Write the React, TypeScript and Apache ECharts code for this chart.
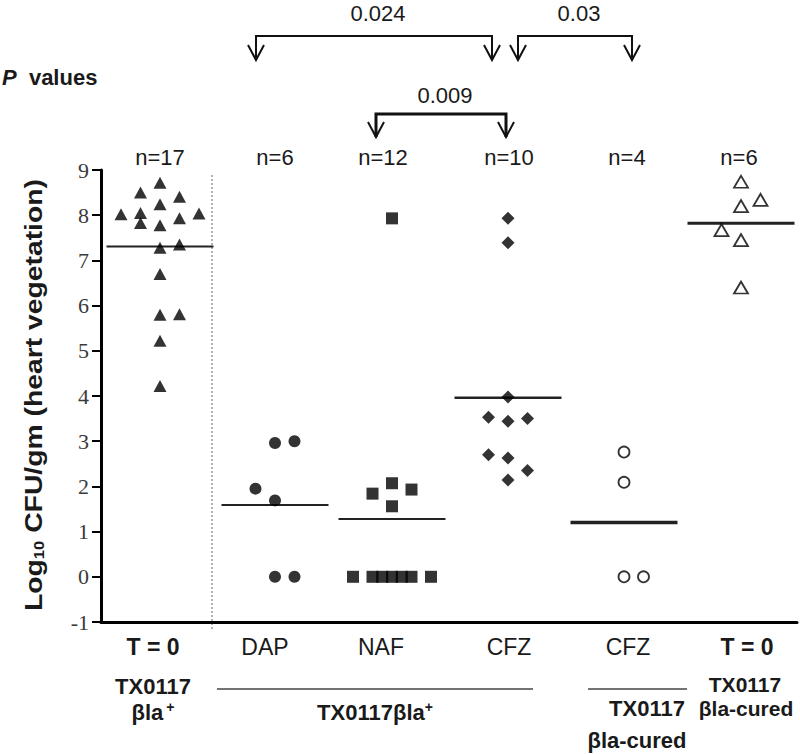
import React, { useEffect, useRef } from "react";
import * as echarts from "echarts";

// ---------- data ----------
const categoryLabels = ["T = 0", "DAP", "NAF", "CFZ", "CFZ", "T = 0"];
const boldCategory = [true, false, false, false, false, true];
const categoryLabelX = [0.52, 1.64, 2.8, 4.08, 5.27, 6.46];
const groupCenters = [0.59, 1.74, 2.91, 4.07, 5.23, 6.4];
const nLabelX = [0.59, 1.74, 2.82, 4.08, 5.26, 6.38];
const sampleSizes = [17, 6, 12, 10, 4, 6];
const medians = [7.31, 1.59, 1.28, 3.96, 1.2, 7.82];

const t0Values = [8.02, 8.5, 8.05, 7.83, 8.72, 8.24, 7.78, 7.28, 6.7, 5.8, 5.22, 4.22, 8.41, 7.93, 7.35, 5.81, 8.04];
const t0Slots = [-2, -1, -1, -1, 0, 0, 0, 0, 0, 0, 0, 0, 1, 1, 1, 1, 2];
const dapValues = [3.0, 2.96, 1.95, 1.69, 0, 0];
const dapSlots = [1, 0, -1, 0, 0, 1];
const nafValues = [7.93, 2.07, 1.84, 1.93, 1.56, 0, 0, 0, 0, 0, 0, 0];
const nafSlots = [0, 0, -1, 1, 0, -2, -1, -0.5, 0, 0.5, 1, 2];
const cfzValues = [7.93, 7.39, 3.98, 3.53, 3.44, 3.5, 2.7, 2.63, 2.35, 2.14];
const cfzSlots = [0, 0, 0, -1, 0, 1, -1, 0, 1, 0];
const curedCfzValues = [2.76, 2.09, 0, 0];
const curedCfzSlots = [0, 0, 0, 1];
const curedT0Values = [8.74, 8.34, 8.2, 7.67, 7.45, 6.4];
const curedT0Slots = [0, 1, 0, -1, 0, 0];

const yTicks = [-1, 0, 1, 2, 3, 4, 5, 6, 7, 8, 9];

// P-value comparisons
const pLabels = ["0.024", "0.03", "0.009"];
const pFrom = [1.55, 4.17, 2.75];
const pTo = [3.91, 5.31, 4.05];
const pLevel = [0, 0, 1];

// ---------- layout ----------
const SLOT = 0.195;
const X_MAX = 6.96;
const MEDIAN_HALF = 0.535;

const groupStyles = [
  { symbol: "triangle", size: [13, 12], open: false },
  { symbol: "circle", size: 12, open: false },
  { symbol: "rect", size: 12, open: false },
  { symbol: "diamond", size: 13, open: false },
  { symbol: "circle", size: 11, open: true },
  { symbol: "triangle", size: [14, 12], open: true },
];
const medianWidths = [2, 2, 2, 2.5, 3.5, 3];

const groupValues = [t0Values, dapValues, nafValues, cfzValues, curedCfzValues, curedT0Values];
const groupSlots = [t0Slots, dapSlots, nafSlots, cfzSlots, curedCfzSlots, curedT0Slots];

const TEXT = "#1a1a1a";
const FONT = "Liberation Sans, Arial, sans-serif";
const FS = 22;

export default function App() {
  const ref = useRef<HTMLDivElement>(null);

  useEffect(() => {
    document.body.style.margin = "0";
    if (!ref.current) return;
    const chart = echarts.init(ref.current, undefined, { renderer: "svg" });

    const series: any[] = [];
    groupValues.forEach((vals, g) => {
      const st = groupStyles[g];
      series.push({
        type: "scatter",
        name: "g" + g,
        symbol: st.symbol,
        symbolSize: st.size,
        z: 3,
        itemStyle: st.open
          ? { color: "#fff", borderColor: "#000", borderWidth: 1.8 }
          : { color: "#000" },
        data: vals.map((v, i) => [groupCenters[g] + groupSlots[g][i] * SLOT, v]),
      });
      series.push({
        type: "line",
        name: "m" + g,
        symbol: "none",
        z: 2,
        lineStyle: { color: "#222", width: medianWidths[g] },
        data: [
          [groupCenters[g] - MEDIAN_HALF, medians[g]],
          [groupCenters[g] + MEDIAN_HALF, medians[g]],
        ],
      });
    });

    const option: any = {
      animation: false,
      backgroundColor: "#fff",
      grid: { left: 101, right: 3, top: 170, bottom: 132, containLabel: false },
      xAxis: {
        type: "value",
        min: 0,
        max: X_MAX,
        splitLine: { show: false },
        axisLine: { onZero: false, lineStyle: { color: "#000", width: 3 } },
        axisTick: { show: false },
        axisLabel: {
          customValues: categoryLabelX,
          margin: 13,
          formatter: (val: number) => {
            const i = categoryLabelX.findIndex((c) => Math.abs(c - val) < 1e-6);
            if (i < 0) return "";
            return boldCategory[i] ? `{b|${categoryLabels[i]}}` : `{n|${categoryLabels[i]}}`;
          },
          rich: {
            b: { fontFamily: FONT, fontSize: 23, fontWeight: "bold", color: TEXT },
            n: { fontFamily: FONT, fontSize: 23, color: TEXT },
          },
        },
      },
      yAxis: {
        type: "value",
        min: -1,
        max: 9,
        interval: 1,
        splitLine: { show: false },
        axisLine: { show: true, onZero: false, lineStyle: { color: "#000", width: 3 } },
        axisTick: { show: true, inside: false, length: 9, lineStyle: { color: "#000", width: 2 } },
        axisLabel: {
          margin: 12,
          fontFamily: "Liberation Serif, Times New Roman, serif",
          fontSize: 22,
          color: "#3a3a3a",
          formatter: (v: number) => (yTicks.includes(v) ? String(v) : ""),
        },
      },
      series,
    };
    chart.setOption(option);

    const px = (x: number, y: number) =>
      chart.convertToPixel({ xAxisIndex: 0, yAxisIndex: 0 }, [x, y]) as number[];

    const graphics: any[] = [];
    const txt = (text: string, x: number, y: number, extra: any = {}) => ({
      type: "text",
      x,
      y,
      silent: true,
      style: {
        text,
        fontFamily: FONT,
        fontSize: FS,
        fill: TEXT,
        align: "center",
        verticalAlign: "middle",
        ...extra,
      },
    });

    // y-axis title
    graphics.push({
      type: "text",
      x: 32,
      y: 395,
      rotation: Math.PI / 2,
      scaleX: 1.18,
      silent: true,
      style: {
        text: "{a|Log}{s|10}{a| CFU/gm (heart vegetation)}",
        align: "center",
        verticalAlign: "middle",
        rich: {
          a: { fontFamily: FONT, fontSize: 24, fontWeight: "bold", fill: TEXT, verticalAlign: "bottom", lineHeight: 28 },
          s: { fontFamily: FONT, fontSize: 14, fontWeight: "bold", fill: TEXT, verticalAlign: "bottom", lineHeight: 28, padding: [10, 0, 0, 0] },
        },
      },
    });

    // "P values"
    graphics.push({
      type: "text",
      x: 2,
      y: 77,
      silent: true,
      style: {
        text: "{p|P}{v|  values}",
        align: "left",
        verticalAlign: "middle",
        rich: {
          p: { fontFamily: FONT, fontSize: 22, fontWeight: "bold", fontStyle: "italic", fill: TEXT },
          v: { fontFamily: FONT, fontSize: 22, fontWeight: "bold", fill: TEXT },
        },
      },
    });

    // n labels
    sampleSizes.forEach((n, g) => {
      const [x] = px(nLabelX[g], 0);
      graphics.push(txt(`n=${n}`, x, 157));
    });

    // p-value brackets
    const levels = [
      { text: 13, bar: 36, tip: 60, width: 2 },
      { text: 95, bar: 114, tip: 137, width: 3 },
    ];
    pLabels.forEach((lab, k) => {
      const L = levels[pLevel[k]];
      const [x1] = px(pFrom[k], 0);
      const [x2] = px(pTo[k], 0);
      graphics.push({
        type: "polyline",
        silent: true,
        shape: { points: [[x1, L.tip], [x1, L.bar], [x2, L.bar], [x2, L.tip]] },
        style: { stroke: "#111", lineWidth: L.width, fill: null },
      });
      [x1, x2].forEach((x) => {
        graphics.push({
          type: "polyline",
          silent: true,
          shape: { points: [[x - 8, L.tip - 15], [x, L.tip], [x + 8, L.tip - 15]] },
          style: { stroke: "#111", lineWidth: 2, fill: null },
        });
      });
      graphics.push(txt(lab, (x1 + x2) / 2 + 4, L.text));
    });

    // divider between T=0 and treatment groups
    const [divX] = px(1.11, 0);
    graphics.push({
      type: "line",
      silent: true,
      shape: { x1: divX, y1: 175, x2: divX, y2: 630 },
      style: { stroke: "#999", lineWidth: 1.5, lineDash: [2, 2] },
    });

    // group captions under the axis
    const bold = { fontWeight: "bold" };
    const [c0] = px(categoryLabelX[0], 0);
    graphics.push(txt("TX0117", c0, 686, bold));
    graphics.push({
      type: "text",
      x: c0,
      y: 712,
      silent: true,
      style: {
        text: "{a|βla}{s|+}",
        align: "center",
        verticalAlign: "middle",
        rich: {
          a: { fontFamily: FONT, fontSize: FS, fontWeight: "bold", fill: TEXT },
          s: { fontFamily: FONT, fontSize: 14, fontWeight: "bold", fill: TEXT, padding: [0, 0, 10, 3] },
        },
      },
    });
    const [la] = px(1.16, 0);
    const [lb] = px(4.32, 0);
    graphics.push({
      type: "line",
      silent: true,
      shape: { x1: la, y1: 689, x2: lb, y2: 689 },
      style: { stroke: "#444", lineWidth: 1.5 },
    });
    graphics.push({
      type: "text",
      x: (la + lb) / 2,
      y: 712,
      silent: true,
      style: {
        text: "{a|TX0117βla}{s|+}",
        align: "center",
        verticalAlign: "middle",
        rich: {
          a: { fontFamily: FONT, fontSize: FS, fontWeight: "bold", fill: TEXT },
          s: { fontFamily: FONT, fontSize: 14, fontWeight: "bold", fill: TEXT, padding: [0, 0, 10, 0] },
        },
      },
    });
    const [lc] = px(4.87, 0);
    const [ld] = px(5.86, 0);
    graphics.push({
      type: "line",
      silent: true,
      shape: { x1: lc, y1: 689, x2: ld, y2: 689 },
      style: { stroke: "#444", lineWidth: 1.5 },
    });
    graphics.push(txt("TX0117", 647, 708, bold));
    graphics.push(txt("βla-cured", 637, 740, bold));
    const [c5] = px(categoryLabelX[5], 0);
    graphics.push(txt("TX0117", c5 - 2, 684, { ...bold, fontSize: 21 }));
    graphics.push(txt("βla-cured", c5 - 1, 708, { ...bold, fontSize: 21 }));

    chart.setOption({ graphic: graphics });

    return () => chart.dispose();
  }, []);

  return (
    <div
      ref={ref}
      style={{ position: "absolute", left: 0, top: 0, width: 800, height: 754, background: "#fff" }}
    />
  );
}
